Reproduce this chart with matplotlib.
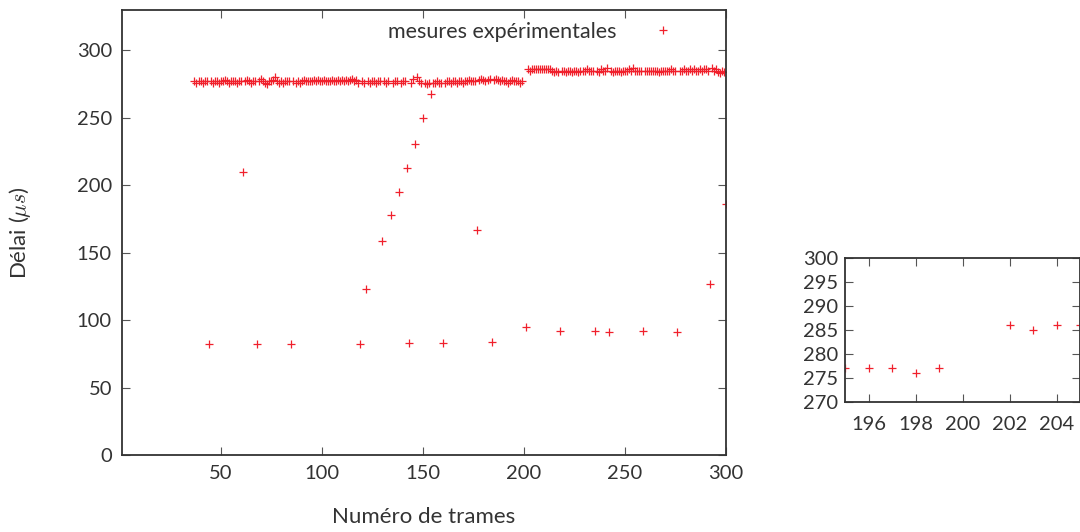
import numpy as np
import matplotlib
matplotlib.use("Agg")
import matplotlib.pyplot as plt

plt.rcParams['font.family'] = ['Lato', 'DejaVu Sans']
plt.rcParams['mathtext.fontset'] = 'cm'

nan = np.nan

# délai "normal" trame par trame, trames 37 a 199 (nan = trame hors palier)
debut1 = 37
palier1 = [
    277, 276, 277, 277, 276, 277, 277, nan, 277, 276,
    277, 277, 276, 277, 277, 278, 277, 276, 277, 277,
    277, 276, 277, 277, nan, 277, 278, 277, 276, 277,
    277, nan, 277, 279, 277, 276, 275, 277, 277, 278,
    280, 277, 276, 277, 276, 277, 277, 277, nan, 277,
    276, 277, 276, 277, 278, 277, 277, 277, 277, 278,
    277, 278, 277, 277, 278, 277, 277, 277, 278, 277,
    277, 278, 277, 278, 277, 278, 277, 278, 279, 277,
    278, 276, nan, 277, 276, nan, 277, 276, 277, 277,
    276, 277, 277, nan, 277, 276, 277, nan, 276, 277,
    277, nan, 276, 277, 277, nan, nan, 276, 279, nan,
    280, 277, 276, nan, 276, 275, 276, nan, 276, 276,
    277, 276, 276, nan, 276, 277, 277, 276, 277, 277,
    276, 277, 277, 276, 277, 277, 278, 277, 277, 277,
    nan, 278, 279, 278, 277, 278, 279, nan, 278, 279,
    278, 277, 278, 277, 277, 276, 277, 278, 277, 277,
    277, 276, 277,
]

# trames 200 a 300
debut2 = 200
palier2 = [
    nan, nan, 286, 285, 286, 286,
    286, 286, 286, 286, 286, 286, 286, 286, 285, 284,
    285, 284, nan, 285, 285, 284, 285, 285, 284, 285,
    285, 284, 285, 285, 285, 286, 285, 285, 285, nan,
    285, 284, 286, 285, 285, 287, nan, 285, 284, 285,
    285, 285, 284, 285, 285, 285, 286, 285, 287, 285,
    285, 285, 285, nan, 285, 285, 285, 285, 285, 285,
    285, 284, 285, 285, 285, 285, 285, 286, 285, 285,
    nan, 285, 285, 286, 285, 285, 286, 285, 286, 285,
    285, 286, 285, 286, 286, 285, nan, 287, 285, 286,
    284, 283, 285, 284, nan,
]

# mesures hors palier
trames_hors = [44, 61, 68, 85, 119, 122, 130, 134, 138, 142, 143, 146, 150,
               154, 160, 177, 184, 201, 218, 235, 242, 259, 276, 292, 300]
delai_hors = [82, 210, 82, 82, 82, 123, 159, 178, 195, 213, 83, 231, 250,
              268, 83, 167, 84, 95, 92, 92, 91, 92, 91, 127, 186]

x = np.concatenate([np.arange(debut1, debut1 + len(palier1)),
                    np.arange(debut2, debut2 + len(palier2)),
                    trames_hors])
y = np.concatenate([palier1, palier2, delai_hors])

rouge = '#f0202c'
gris = '#333333'

fig = plt.figure(figsize=(10.8, 5.32), dpi=100)

ax = fig.add_axes([121.7 / 1080, 1 - 455 / 532, (726 - 121.7) / 1080, 445 / 532])
ax.plot(x, y, ls='none', marker='+', color=rouge, ms=6, mew=0.9,
        label='mesures expérimentales')
ax.set_xlim(1, 300)
ax.set_ylim(0, 330)
ax.set_xticks([50, 100, 150, 200, 250, 300])
ax.set_yticks([0, 50, 100, 150, 200, 250, 300])
ax.set_xlabel('Numéro de trames', fontsize=16, color=gris)
ax.set_ylabel(r'Délai ($\mu s$)', fontsize=16, color=gris)
ax.xaxis.set_label_coords(0.5, -0.117)
ax.yaxis.set_label_coords(-0.147, 0.5)
ax.legend(loc='upper right', bbox_to_anchor=(0.967, 1.017), frameon=False,
          markerfirst=False, fontsize=15.5, handlelength=2.2, handletextpad=1.05,
          labelcolor=gris)

# zoom sur le saut de palier
ax2 = fig.add_axes([845 / 1080, 1 - 402 / 532, (1080 - 845) / 1080, 144 / 532])
ax2.plot(x, y, ls='none', marker='+', color=rouge, ms=6, mew=0.9)
ax2.set_xlim(195, 205)
ax2.set_ylim(270, 300)
ax2.set_xticks([196, 198, 200, 202, 204])
ax2.set_yticks([270, 275, 280, 285, 290, 295, 300])

for a in (ax, ax2):
    a.tick_params(direction='in', top=True, right=True, length=6,
                  color='#555555', labelcolor=gris, labelsize=14.5, pad=7)
    for s in a.spines.values():
        s.set_color(gris)
        s.set_linewidth(1.3)
ax2.tick_params(axis='x', pad=10)
ax2.tick_params(axis='y', pad=5)

fig.savefig('out.png', dpi=100)
